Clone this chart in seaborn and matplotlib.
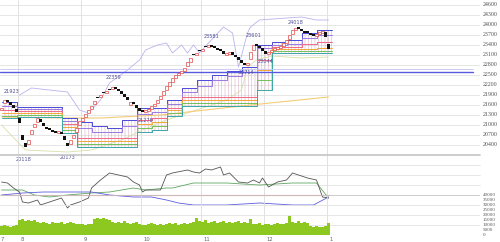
import numpy as np
import pandas as pd
import matplotlib
matplotlib.use("Agg")
import matplotlib.pyplot as plt
import seaborn as sns

sns.set_theme(style="white")
plt.rcParams["font.family"] = ["DejaVu Sans"]
plt.rcParams["hatch.linewidth"] = 0.35

# ---------------- data ----------------
closes = [21510,21750,21690,21600,21510,21390,21060,20550,20340,20550,
          20850,21030,21210,21090,20970,20880,20850,20790,20760,20820,
          20730,20550,20370,20550,20700,20910,21120,21210,21330,21450,
          21570,21720,21810,21900,21960,22020,22050,22140,22080,22020,
          21930,21840,21750,21690,21630,21510,21420,21390,21450,21480,
          21570,21630,21750,21870,22020,22170,22290,22410,22500,22560,
          22620,22710,22890,23010,23100,23160,23220,23280,23340,23400,
          23340,23310,23250,23220,23130,23160,23190,23100,23040,22950,
          22860,22800,22860,23190,23400,23370,23310,23220,23130,23190,
          23250,23310,23340,23370,23460,23550,23700,23850,23910,23880,
          23820,23760,23760,23700,23670,23730,23790,23820,23640,23280]
opens = [21440,21660,21760,21680,21590,21480,21200,20700,20450,20430,
         20720,20930,21100,21170,21060,20950,20920,20860,20830,20750,
         20800,20680,20470,20440,20610,20790,21010,21130,21240,21370,
         21480,21620,21850,21830,22000,21950,22090,22070,22150,22090,
         22010,21920,21830,21600,21700,21610,21500,21450,21380,21420,
         21490,21560,21650,21770,21900,22050,22180,22300,22420,22490,
         22550,22630,22760,22900,23140,23090,23260,23210,23380,23330,
         23410,23380,23320,23290,23210,23090,23120,23180,23110,23030,
         22940,22870,22790,22980,23250,23440,23380,23300,23210,23120,
         23180,23240,23270,23300,23380,23460,23580,23720,23840,23950,
         23890,23830,23820,23770,23740,23660,23720,23750,23800,23440]
volume = [9000,10000,9500,8500,9000,10500,
          15000,16000,14500,15500,14000,15000,13500,
          12500,13000,12000,11500,13500,12500,12000,13000,11500,12500,13500,12000,11000,11500,
          11000,10500,11500,11000,
          16500,17000,16000,17500,16000,15000,
          13500,12500,13000,12000,14000,12500,11500,12000,13000,
          11500,10500,10000,11000,12000,11500,10500,11000,10000,11500,12000,
          11000,12000,10500,11500,12000,11000,12500,13000,
          17500,
          14000,13000,15000,12500,13500,14500,12000,13000,14000,12500,13500,12000,13000,14000,12500,
          13000,12000,
          16500,
          11500,11000,12000,10500,11000,11500,10500,11000,12000,11500,11000,
          12000,19000,
          13500,12500,14000,12000,13000,12500,
          9000,8500,9000,8000,8500,9000,
          12500]

# ribbon (step lines every 5 sessions)
rib_days = list(range(0, 111, 5))
rib_blue   = [21690,21540,21540,21540,21210,21090,20970,20910,21150,21510,21510,21750,22110,22350,22500,22620,22740,23400,23490,23550,23760,23850,23850]
rib_purple = [21570,21480,21480,21480,21120,20910,20790,20790,20970,21330,21390,21630,21990,22170,22350,22470,22590,23310,23400,23430,23610,23700,23700]
rib_red    = [21450,21420,21420,21420,21030,20610,20610,20610,20610,21150,21210,21510,21840,21840,21840,21840,21840,22950,23340,23340,23430,23490,23490]
rib_orange = [21360,21360,21360,21360,20940,20520,20520,20520,20520,21030,21090,21450,21750,21750,21750,21750,21750,22650,23280,23280,23280,23310,23310]
rib_green  = [21270,21300,21300,21300,20850,20430,20430,20430,20430,20910,20970,21360,21660,21660,21660,21660,21660,22350,23220,23220,23220,23220,23220]
rib_teal   = [21210,21240,21240,21240,20760,20340,20340,20340,20340,20790,20850,21270,21570,21570,21570,21570,21570,22050,23160,23160,23160,23160,23160]

# upper band (lavender) and lower band
up_days = [6,10,16,22,26,29,33,36,42,46,48,52,55,57,60,62,64,66,69,74,77,79,82,83,86,95,100,105,109]
up_vals = [21900,22110,22050,21990,21450,21360,21750,22260,22650,22950,23250,23400,23460,23160,23400,23160,23400,23160,23460,23940,23760,22740,23760,23940,24150,24210,24240,24150,24150]
lo_days = [0,8,22,30,40,47,55,65,75,80,82,85,90,100,109]
lo_vals = [21000,20250,20190,20250,20550,20850,21150,21450,21750,22050,22740,22950,23070,23010,23040]
ma_days = [0,20,33,53,83,109]
ma_vals = [21240,21210,21210,21300,21600,21840]
hline_levels = [22590, 22680]

# high / low annotations
hl_days   = [3.5, 7.5, 22, 37.5, 48, 70, 81.5, 84, 88, 98]
hl_vals   = [21923, 20118, 20173, 22359, 21278, 23581, 22714, 23601, 23044, 24018]
hl_is_top = [True, False, False, True, False, True, False, True, False, True]

# oscillator
g_days = [0,2,4,6,7,9,12,13,16,18,20,22,23,26,29,30,33,36,39,42,44,46,47,48,50,53,55,57,62,64,66,68,70,73,74,76,79,82,84,86,87,89,92,95,97,99,102,105,107,109]
g_vals = [13,12,7,3,-7,-8,-5,-10,-7,-5,-3,-13,-10,-7,-3,7,15,22,20,18,13,10,3,5,5,5,20,22,25,23,22,26,25,28,20,22,13,12,15,12,17,8,13,15,22,20,17,15,-2,-3]
gr_days = [0,7,11,16,22,30,36,44,48,55,57,64,75,86,97,105,109]
gr_vals = [5,5,0,-2,0,2,3,7,5,7,7,12,12,10,12,12,-3]
bl_days = [0,7,14,22,30,36,44,50,55,59,64,75,86,97,104,109]
bl_vals = [0,2,3,3,3,0,-2,-2,-5,-8,-10,-10,-8,-10,-10,-2]
red_level = 0

month_labels = ["7", "8", "9", "10", "11", "12", "1"]
month_starts = [-3.5, 5.5, 26.5, 46.5, 66.5, 87.5, 108.5]

# ---------------- figure ----------------
W, H = 500, 242
fig = plt.figure(figsize=(5, 2.42), dpi=100)
fig.patch.set_facecolor("white")

def rect(top, bottom, left=0, right=480):
    return [left / W, 1 - bottom / H, (right - left) / W, (bottom - top) / H]

ax = fig.add_axes(rect(0, 155))
axo = fig.add_axes(rect(155, 195))
axv = fig.add_axes(rect(195, 235))
for a in (ax, axo, axv):
    a.set_xlim(-0.5, 159.5)
    a.set_facecolor("none")
    for s in a.spines.values():
        s.set_visible(False)
    a.tick_params(left=False, bottom=False, labelbottom=False, labelleft=False,
                  right=False, labelright=False)
    for m in month_starts[1:]:
        a.axvline(m, color="#dcdcdc", lw=0.6, zorder=0)

gridc = "#e2e2e2"
lab_font = dict(family=["Liberation Serif", "DejaVu Serif"], size=4.3, color="#555555")

# ---- main panel ----
ax.set_ylim(20100, 24750)
ticks = list(range(20400, 24601, 300))
for t in ticks:
    ax.axhline(t, color=gridc, lw=0.6, zorder=0)
    ax.text(1.006, t, str(t), transform=ax.get_yaxis_transform(), ha="left",
            va="center", **lab_font)

# ribbon hatch and lines
ax.fill_between(rib_days, rib_blue, rib_teal, step="post", facecolor="none",
                edgecolor="#d6a8c0", hatch="|||||", lw=0, zorder=1)
for vals, col in [(rib_blue, "#4a4ad8"), (rib_purple, "#9a7ae0"), (rib_red, "#f06a86"),
                  (rib_orange, "#f2a83a"), (rib_green, "#74c05a"), (rib_teal, "#3aa6a6")]:
    ax.step(rib_days, vals, where="post", color=col, lw=0.7, zorder=2)

sns.lineplot(x=up_days, y=up_vals, ax=ax, color="#bcb2ec", lw=0.6, zorder=1)
sns.lineplot(x=lo_days, y=lo_vals, ax=ax, color="#d8dfa8", lw=0.6, zorder=1)
sns.lineplot(x=ma_days, y=ma_vals, ax=ax, color="#f4cc78", lw=0.8, zorder=1)
ax.axhline(hline_levels[0], color="#5858e0", lw=1.0, xmax=0.985, zorder=2)
ax.axhline(hline_levels[1], color="#c8c4f0", lw=0.6, xmax=0.985, zorder=2)

# candles
days = np.arange(len(closes))
o = np.array(opens); c = np.array(closes)
up = c > o
bottoms = np.minimum(o, c)
heights = np.maximum(np.abs(c - o), 25)
ax.bar(days[up], heights[up], bottom=bottoms[up], width=0.75, facecolor="white",
       edgecolor="#e04848", lw=0.5, zorder=4)
ax.bar(days[~up], heights[~up], bottom=bottoms[~up], width=0.8, color="#111111",
       lw=0, zorder=4)

# annotations
for d, v, top in zip(hl_days, hl_vals, hl_is_top):
    ax.text(d, v + (70 if top else -140), str(v), ha="center", va="center",
            fontsize=3.6, color="#50509a", clip_on=False, zorder=5)

# ---- oscillator panel ----
axo.set_ylim(0, 40)
for t in (10, 20, 30):
    axo.axhline(t, color=gridc, lw=0.6, zorder=0)
axo.axhline(40, color="#c4c4c4", lw=1.2, zorder=0)
sns.lineplot(x=[0, 109], y=[red_level, red_level], ax=axo, color="#f28c8c", lw=0.8)
sns.lineplot(x=gr_days, y=gr_vals, ax=axo, color="#5fa860", lw=0.6)
sns.lineplot(x=bl_days, y=bl_vals, ax=axo, color="#5c5ce0", lw=0.6)
sns.lineplot(x=g_days, y=g_vals, ax=axo, color="#555555", lw=0.6)
for ln in axo.lines:
    ln.set_clip_on(False)

# ---- volume panel ----
axv.set_ylim(0, 40000)
axv.axhline(40000, color="#c4c4c4", lw=1.2, zorder=0)
for t in (0, 10000, 20000, 30000):
    axv.axhline(t, color=gridc, lw=0.6, zorder=0)
for t in range(0, 40001, 5000):
    axv.text(1.006, t, str(t), transform=axv.get_yaxis_transform(), ha="left",
             va="center", **{**lab_font, "size": 3.6})
axv.bar(days, volume, width=0.8, color="#8cc820", lw=0, zorder=2)

for lab, m in zip(month_labels, month_starts):
    x = max(m + 0.8, -0.3)
    axv.text(x, -0.06, lab, transform=axv.get_xaxis_transform(), ha="left", va="top",
             fontsize=3.8, color="#666666")

fig.savefig("out.png", dpi=100, facecolor="white")
